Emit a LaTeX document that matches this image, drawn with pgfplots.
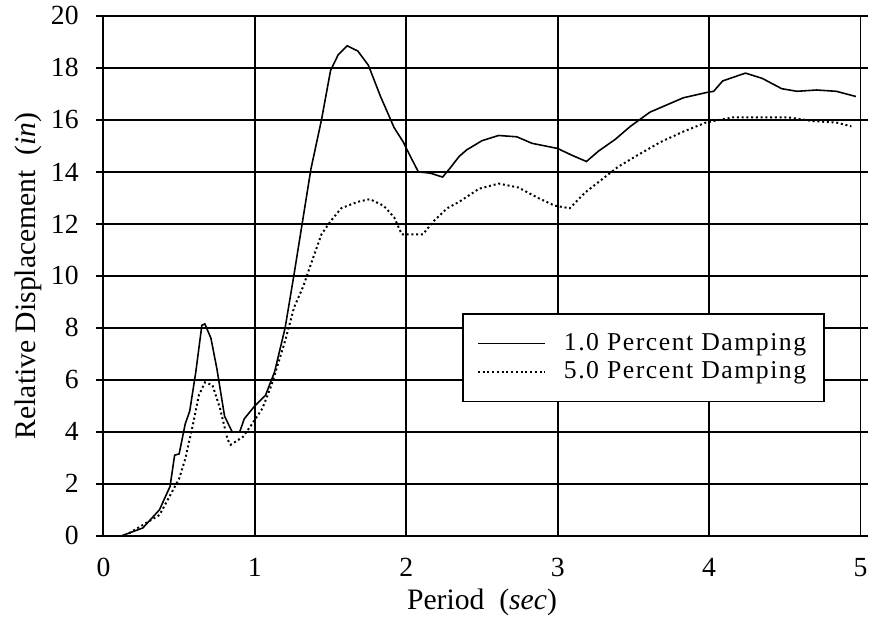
\documentclass[border=0pt]{standalone}
\usepackage{fontspec}
\setmainfont{Liberation Serif}
\newfontfamily\legfont[LetterSpace=6]{Liberation Serif}
\usepackage{pgfplots}
\pgfplotsset{compat=1.18}
\begin{document}
\begin{tikzpicture}
\begin{axis}[
  width=383pt, height=263pt, scale only axis,
  xmin=0, xmax=5, ymin=0, ymax=20,
  xtick={0,1,2,3,4,5}, ytick={0,2,...,20},
  grid=major,
  major grid style={black, line width=1pt},
  axis line style={black, line width=1pt},
  tick align=outside,
  ytick style={black, line width=1pt},
  major tick length=4pt,
  xtick style={draw=none},
  /pgf/number format/assume math mode=true,
  tick label style={font=\fontsize{14}{16}\selectfont},
  xticklabel style={yshift=-4pt},
  yticklabel style={xshift=-5pt},
  xlabel={Period\ \ (\textit{sec})},
  ylabel={Relative Displacement\ \ (\textit{in})},
  label style={font=\fontsize{15}{18}\selectfont},
  xlabel style={yshift=1pt},
  ylabel style={yshift=-2pt},
  legend style={at={(axis cs:2.37,8.57)}, anchor=north west, draw=black, line width=0.8pt,
    fill=white, font=\legfont\fontsize{13}{15}\selectfont, inner xsep=7pt, inner ysep=8pt,
    row sep=0pt,
    /tikz/every even column/.append style={column sep=0pt}},
  legend cell align=left,
  legend image code/.code={\draw[#1] (0pt,0pt) -- (34pt,0pt);},
  legend entries={{\hspace{7pt}1.0 Percent Damping\hspace{22pt}},{\hspace{7pt}5.0 Percent Damping\hspace{22pt}}},
]
\addplot[black, line width=0.8pt] coordinates {
(0.12,0.0) (0.26,0.3) (0.37,1.0) (0.44,1.9) (0.47,3.1) (0.50,3.15) (0.54,4.3) (0.57,4.8)
(0.61,6.3) (0.65,8.1) (0.67,8.15) (0.71,7.6) (0.75,6.4) (0.80,4.6) (0.85,4.0) (0.90,4.0)
(0.93,4.5) (1.00,5.0) (1.07,5.4) (1.13,6.3) (1.20,8.0) (1.26,10.1) (1.37,14.1) (1.44,16.0)
(1.50,17.9) (1.55,18.5) (1.61,18.85) (1.68,18.65) (1.75,18.1) (1.83,16.9) (1.92,15.7)
(1.98,15.15) (2.04,14.45) (2.08,14.0) (2.16,13.95) (2.24,13.8) (2.29,14.15) (2.35,14.6)
(2.40,14.85) (2.50,15.2) (2.61,15.4) (2.73,15.35) (2.83,15.1) (3.00,14.9) (3.09,14.65)
(3.19,14.4) (3.27,14.8) (3.38,15.25) (3.48,15.75) (3.61,16.3) (3.83,16.85) (3.98,17.05)
(4.03,17.1) (4.09,17.5) (4.24,17.8) (4.35,17.6) (4.48,17.2) (4.58,17.1) (4.71,17.15)
(4.84,17.1) (4.97,16.9)
};
\addplot[black, line width=1pt, dash pattern=on 1pt off 1.4pt] coordinates {
(0.17,0.1) (0.37,0.8) (0.44,1.55) (0.50,2.2) (0.54,2.95) (0.59,4.25) (0.63,5.4) (0.67,5.9)
(0.72,5.8) (0.77,4.9) (0.82,3.7) (0.84,3.5) (0.92,3.8) (0.97,4.2) (1.05,4.9) (1.11,5.8)
(1.20,7.5) (1.26,8.8) (1.32,9.6) (1.37,10.45) (1.44,11.6) (1.50,12.1) (1.57,12.6)
(1.68,12.85) (1.76,12.95) (1.85,12.7) (1.92,12.25) (1.97,11.6) (2.03,11.6) (2.11,11.6)
(2.18,12.1) (2.27,12.6) (2.35,12.85) (2.48,13.35) (2.61,13.55) (2.74,13.4) (2.87,13.0)
(2.98,12.7) (3.08,12.6) (3.18,13.2) (3.29,13.7) (3.40,14.2) (3.53,14.65) (3.68,15.15)
(3.83,15.55) (3.98,15.9) (4.16,16.1) (4.37,16.1) (4.52,16.1) (4.69,15.95) (4.84,15.9)
(4.94,15.75)
};
\end{axis}
\path ([xshift=-4pt]current axis.outer west) -- ++(0,0);
\end{tikzpicture}
\end{document}
